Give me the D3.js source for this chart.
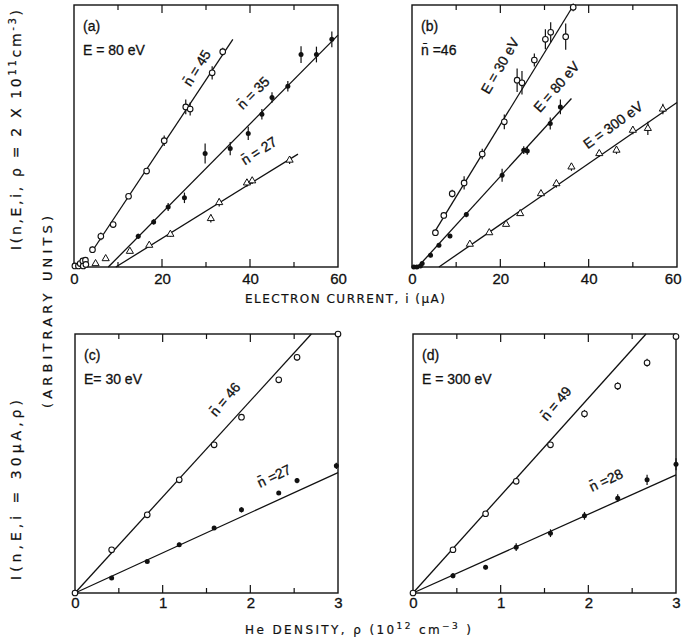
<!DOCTYPE html>
<html><head><meta charset="utf-8">
<script src="https://cdn.jsdelivr.net/npm/d3@7"></script>
<style>
body{margin:0;background:#fff}
text{font-family:"Liberation Sans",Arial,sans-serif;fill:#111;stroke:#111;stroke-width:0.3px}
text.ttl{font-family:"DejaVu Sans",sans-serif;stroke-width:0.2px}
</style>
</head><body><svg id="chart" width="682" height="641"></svg>
<script>
// ---------- DATA ----------
const currentTicks = [0, 20, 40, 60];
const currentMinor = [10, 20, 30, 40, 50];
const densityTicks = [0, 1, 2, 3];
const densityMinor = [0.5, 1, 1.5, 2, 2.5];

// Panel (a) E = 80 eV : [current (µA), intensity (arb.), error]
const a_n45 = [[4.2,6.6,1.2],[6.1,11.7,1.5],[8.9,16.2,1],[12.4,27.0,1],[16.5,36.6,1],[20.5,48.2,2],[25.4,61.1,2.8],[26.4,60.3,2.5],[31.4,74.1,2.5],[33.8,82.2,1.5]];
const a_low = [[0.2,0.4,0],[1.0,0.4,0],[1.4,1.3,0],[2.0,2.3,0],[2.6,2.6,0],[2.1,0.4,0],[2.7,1.0,0]];
const a_n45_fit = [[4.2,6.2],[36.1,86.9]];
const a_n35 = [[14.6,11.7,1],[18.1,17.2,1],[21.4,22.9,1.5],[25.1,26.4,2],[29.8,43.3,3.8],[35.5,45.2,2.5],[39.6,51.0,2.5],[42.7,58.3,2],[45.0,64.7,2],[48.6,69.0,2],[51.6,81.1,3.2],[55.1,81.1,3],[58.6,86.9,3]];
const a_n35_fit = [[7.8,0],[60,88.5]];
const a_n27 = [[4.9,1.3,0],[7.2,3.2,0],[12.7,6.0,0.8],[17.1,8.3,0.8],[21.9,12.5,1],[31.1,18.5,1.5],[33.0,24.6,1.5],[39.3,32.1,1.5],[40.5,32.9,1.2],[49.0,40.8,1.5]];
const a_n27_fit = [[9.5,0],[50.9,43.1]];

// Panel (b) n = 46
const b_e30 = [[5.3,13.1,0.5],[7.2,19.7,1],[9.1,28.0,1.5],[11.8,32.1,2.5],[15.9,43.1,2],[20.9,55.4,2.8],[23.8,71.3,4.5],[24.9,70.3,4.5],[27.7,79.0,2.5],[30.2,86.9,3.8],[31.4,89.6,3.8],[34.8,87.9,5],[36.5,99.1,1.5]];
const b_e30_fit = [[5.3,13.9],[36.6,100]];
const b_e80 = [[0.4,0,0],[1.1,0,0],[1.9,0.4,0],[2.3,1.3,0],[4.2,4.5,0.8],[6.1,8.3,0.8],[8.6,11.8,0.8],[12.3,20.0,1],[20.4,35.0,2.5],[25.3,44.6,1.5],[26.1,44.3,1.5],[31.3,54.8,2.3],[33.6,61.1,2.8]];
const b_e80_fit = [[1.3,0],[36.1,64.3]];
const b_e300 = [[13.1,8.7,0.8],[17.5,13.1,0.8],[21.3,16.3,0.8],[24.5,20.4,0.8],[29.2,28.0,1.2],[32.7,31.8,1.5],[36.1,38.2,1.5],[42.4,43.3,1.2],[46.3,44.6,1.5],[50.0,52.2,1.5],[53.4,52.9,2.5],[56.8,60.3,2]];
const b_e300_fit = [[6.1,0],[60,62.8]];

// Panel (c) E = 30 eV : [density (1e12 cm-3), intensity, error]
const c_n46 = [[0,0,0],[0.418,16.7,0.8],[0.824,30.2,0.8],[1.189,43.7,0.8],[1.587,57.2,0.8],[1.899,67.9,1],[2.324,82.3,1],[2.533,91.0,1.2],[3.0,100,0]];
const c_n46_fit = [[0,0],[2.696,100]];
const c_n27 = [[0.418,5.8,0.5],[0.824,12.2,0.5],[1.189,18.6,0.8],[1.587,25.1,0.8],[1.899,32.1,1],[2.324,38.6,0.8],[2.533,43.4,1],[2.981,49.1,1.2]];
const c_n27_fit = [[0,0],[3,46.5]];

// Panel (d) E = 300 eV
const d_n49 = [[0,0,0],[0.456,16.7,1],[0.828,30.6,1],[1.177,43.1,1],[1.568,57.2,1],[1.956,69.2,1.5],[2.335,79.9,1.5],[2.670,88.9,1.5],[3.0,99.0,0.8]];
const d_n49_fit = [[0,0],[2.658,100]];
const d_n28 = [[0.456,6.7,1],[0.828,9.9,0.8],[1.177,17.7,1.5],[1.568,23.1,1.5],[1.956,29.8,1.5],[2.335,36.6,1.5],[2.670,43.7,2],[3.0,49.7,2.3]];
const d_n28_fit = [[0,0],[3,45.6]];

const NB = "n\u0304";

// ---------- PANELS ----------
const panels = [
  {box:[74,338,5,267], xd:[0,60], ticks:currentTicks, minor:currentMinor, pad:6,
   head:["(a)","E = 80 eV"],
   series:[
     {d:a_low, m:"open"},{d:a_n45, m:"open", fit:a_n45_fit},
     {d:a_n35, m:"filled", fit:a_n35_fit},
     {d:a_n27, m:"tri", fit:a_n27_fit}],
   labels:[[NB+" = 45",27.9,76,-58],[NB+" = 35",40.7,66.5,-45],[NB+" = 27",42.0,44.4,-33]]},
  {box:[412,677,5,267], xd:[0,60], ticks:currentTicks, minor:currentMinor, pad:6,
   head:["(b)",NB+" =46"],
   series:[
     {d:b_e30, m:"open", fit:b_e30_fit},
     {d:b_e80, m:"filled", fit:b_e80_fit},
     {d:b_e300, m:"tri", fit:b_e300_fit}],
   labels:[["E = 30 eV",19.9,76.8,-60],["E = 80 eV",32.7,68.8,-49],["E = 300 eV",45.5,54.2,-36]]},
  {box:[75,338,334,593], xd:[0,3], ticks:densityTicks, minor:densityMinor, pad:4,
   head:["(c)","E= 30 eV"],
   series:[
     {d:c_n46, m:"open", fit:c_n46_fit},
     {d:c_n27, m:"filled", fit:c_n27_fit}],
   labels:[[NB+" = 46",1.71,74.8,-50],[NB+" =27",2.27,45.2,-25]]},
  {box:[413,676,334,593], xd:[0,3], ticks:densityTicks, minor:densityMinor, pad:4,
   head:["(d)","E = 300 eV"],
   series:[
     {d:d_n49, m:"open", fit:d_n49_fit},
     {d:d_n28, m:"filled", fit:d_n28_fit}],
   labels:[[NB+" = 49",1.63,73.2,-50],[NB+" =28",2.2,43.6,-25]]}
];

const ink = "#111";
const svg = d3.select("#chart");

panels.forEach(p => {
  const [l, r, t, b] = p.box;
  const x = d3.scaleLinear().domain(p.xd).range([l, r]);
  const y = d3.scaleLinear().domain([0, 100]).range([b, t]);
  const g = svg.append("g");

  // frame
  g.append("rect").attr("x", l).attr("y", t).attr("width", r - l).attr("height", b - t)
    .attr("fill", "none").attr("stroke", ink).attr("stroke-width", 1.4);

  // ticks (inward) and labels
  const isMajor = v => p.ticks.includes(v);
  const axB = d3.axisBottom(x).tickValues(p.ticks).tickSize(0).tickPadding(p.pad).tickFormat(d3.format("d"));
  const gb = g.append("g").attr("transform", `translate(0,${b})`).call(axB);
  gb.select(".domain").remove();
  gb.selectAll("text").attr("font-size", 15).attr("fill", ink)
    .attr("font-family", '"Liberation Sans",Arial,sans-serif')
    .attr("text-anchor", d => (r > 670 && d === p.xd[1]) ? "end" : "middle")
    .attr("dx", d => (r > 670 && d === p.xd[1]) ? 4 : 0);
  [[b, -1], [t, 1]].forEach(([yy, dir]) => {
    g.selectAll(null).data(p.minor).enter().append("line")
      .attr("x1", d => x(d)).attr("x2", d => x(d))
      .attr("y1", yy).attr("y2", d => yy + dir * (isMajor(d) ? 8 : 5))
      .attr("stroke", ink).attr("stroke-width", 1.2);
  });

  // panel headers
  g.append("text").attr("x", l + 9).attr("y", t + 26).attr("font-size", 14).text(p.head[0]);
  g.append("text").attr("x", l + 9).attr("y", t + 50).attr("font-size", 14).text(p.head[1]);

  // fit lines
  p.series.forEach(s => {
    if (s.fit) {
      g.append("path").datum(s.fit)
        .attr("d", d3.line().x(d => x(d[0])).y(d => y(d[1])))
        .attr("fill", "none").attr("stroke", ink).attr("stroke-width", 1.3);
    }
  });

  // error bars + markers
  p.series.forEach(s => {
    g.selectAll(null).data(s.d.filter(d => d[2] > 0)).enter().append("line")
      .attr("x1", d => x(d[0])).attr("x2", d => x(d[0]))
      .attr("y1", d => y(d[1] - d[2])).attr("y2", d => y(d[1] + d[2]))
      .attr("stroke", ink).attr("stroke-width", 1.2);
    const pts = g.selectAll(null).data(s.d).enter();
    if (s.m === "open") {
      pts.append("circle").attr("cx", d => x(d[0])).attr("cy", d => y(d[1])).attr("r", 2.8)
        .attr("fill", "#fff").attr("stroke", ink).attr("stroke-width", 1.1);
    } else if (s.m === "filled") {
      pts.append("circle").attr("cx", d => x(d[0])).attr("cy", d => y(d[1])).attr("r", 2.5)
        .attr("fill", ink);
    } else {
      pts.append("path").attr("d", d3.symbol(d3.symbolTriangle, 22))
        .attr("transform", d => `translate(${x(d[0])},${y(d[1])})`)
        .attr("fill", "#fff").attr("stroke", ink).attr("stroke-width", 1);
    }
  });

  // curve labels
  p.labels.forEach(([txt, lx, ly, rot]) => {
    g.append("text").attr("font-size", 14).attr("text-anchor", "middle")
      .attr("dominant-baseline", "central")
      .attr("transform", `translate(${x(lx)},${y(ly)}) rotate(${rot})`)
      .text(txt);
  });
});

// ---------- AXIS TITLES ----------
svg.append("text").attr("class", "ttl").attr("x", 345).attr("y", 303).attr("text-anchor", "middle")
  .attr("font-size", 12).attr("textLength", 200).attr("lengthAdjust", "spacing")
  .text("ELECTRON CURRENT, i (\u03bcA)");

const t2 = svg.append("text").attr("class", "ttl").attr("x", 245).attr("y", 634).attr("font-size", 12)
  .attr("textLength", 226).attr("lengthAdjust", "spacing");
t2.append("tspan").text("He DENSITY, \u03c1  (10");
t2.append("tspan").attr("dy", -5).attr("font-size", 9).text("12");
t2.append("tspan").attr("dy", 5).text(" cm");
t2.append("tspan").attr("dy", -5).attr("font-size", 9).text("\u22123");
t2.append("tspan").attr("dy", 5).text(" )");

const y1 = svg.append("text").attr("class", "ttl").attr("transform", "translate(21,250) rotate(-90)")
  .attr("font-size", 14).attr("textLength", 240).attr("lengthAdjust", "spacing");
y1.append("tspan").text("I(n,E,i, \u03c1 = 2 X 10");
y1.append("tspan").attr("dy", -5).attr("font-size", 10).text("11");
y1.append("tspan").attr("dy", 5).text("cm");
y1.append("tspan").attr("dy", -5).attr("font-size", 10).text("-3");
y1.append("tspan").attr("dy", 5).text(")");

svg.append("text").attr("class", "ttl").attr("transform", "translate(52,408) rotate(-90)")
  .attr("font-size", 13).attr("textLength", 192).attr("lengthAdjust", "spacing")
  .text("(ARBITRARY UNITS)");

svg.append("text").attr("class", "ttl").attr("transform", "translate(21,580) rotate(-90)")
  .attr("font-size", 14).attr("textLength", 180).attr("lengthAdjust", "spacing")
  .text("I(n,E,i = 30\u03bcA,\u03c1)");
</script>
</body></html>
